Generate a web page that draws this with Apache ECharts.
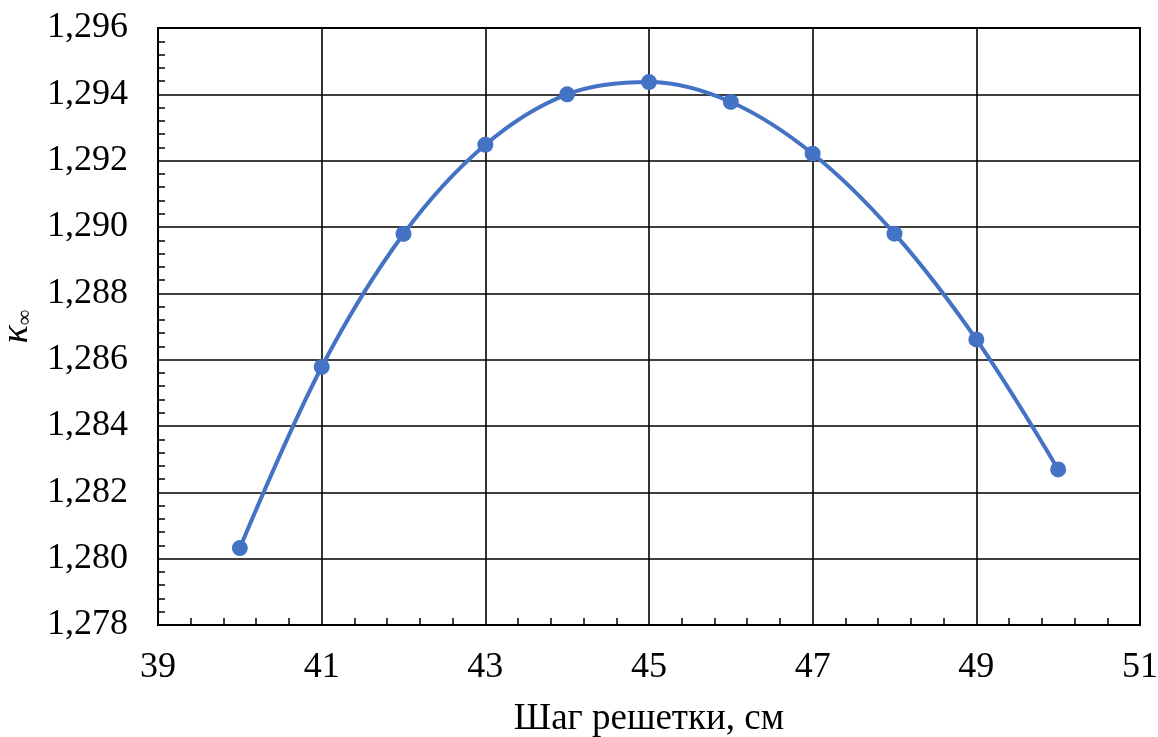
<!DOCTYPE html>
<html>
<head>
<meta charset="utf-8">
<script src="https://cdn.jsdelivr.net/npm/echarts@6/dist/echarts.min.js"></script>
<style>
  html, body { margin: 0; padding: 0; background: #fff; }
  #chart { width: 1158px; height: 737px; }
</style>
</head>
<body>
<div id="chart"></div>
<script>
// шаг решетки, см
const pitch = [40, 41, 42, 43, 44, 45, 46, 47, 48, 49, 50];
// k_inf
const kInf = [1.28032, 1.28578, 1.28979, 1.29248, 1.29400, 1.29437, 1.29377, 1.29221, 1.28980, 1.28661, 1.28269];

const xName = 'Шаг решетки, см';
const fontFam = "'Liberation Serif', 'Times New Roman', serif";

const myChart = echarts.init(document.getElementById('chart'));
const option = {
  animation: false,
  grid: {
    left: 158, right: 18, top: 28, bottom: 112,
    outerBoundsMode: 'none',
    containLabel: false,
    show: true, borderColor: '#000', borderWidth: 2
  },
  xAxis: {
    type: 'value',
    min: 39, max: 51, interval: 2,
    name: xName,
    nameLocation: 'middle',
    nameGap: 76,
    nameTextStyle: { fontFamily: fontFam, fontSize: 37, color: '#000' },
    axisLine: { lineStyle: { color: '#000', width: 2 } },
    axisTick: { show: false },
    minorTick: { show: true, splitNumber: 5, length: -7, lineStyle: { color: '#000', width: 1.5 } },
    splitLine: { lineStyle: { color: '#000', width: 1.6 } },
    axisLabel: { fontFamily: fontFam, fontSize: 36, color: '#000', margin: 25 }
  },
  yAxis: {
    type: 'value',
    min: 1.278, max: 1.296, interval: 0.002,
    name: '{k|κ}{s|∞}',
    nameLocation: 'middle',
    nameGap: 120,
    nameRotate: 90,
    nameTextStyle: {
      rich: {
        k: { fontFamily: fontFam, fontSize: 38, fontStyle: 'italic', color: '#000' },
        s: { fontFamily: fontFam, fontSize: 22, color: '#000', verticalAlign: 'bottom', padding: [16, 0, 0, 0] }
      }
    },
    axisLine: { lineStyle: { color: '#000', width: 2 } },
    axisTick: { show: false },
    minorTick: { show: true, splitNumber: 5, length: -7, lineStyle: { color: '#000', width: 1.5 } },
    splitLine: { lineStyle: { color: '#000', width: 1.6 } },
    axisLabel: {
      fontFamily: fontFam, fontSize: 36, color: '#000', margin: 30,
      formatter: v => v.toFixed(3).replace('.', ',')
    }
  },
  series: [{
    type: 'line',
    data: pitch.map((p, i) => [p, kInf[i]]),
    smooth: 0.35,
    symbol: 'circle',
    symbolSize: 16,
    lineStyle: { color: '#4472C4', width: 4 },
    itemStyle: { color: '#4472C4' }
  }]
};
myChart && myChart.setOption(option);
</script>
</body>
</html>
